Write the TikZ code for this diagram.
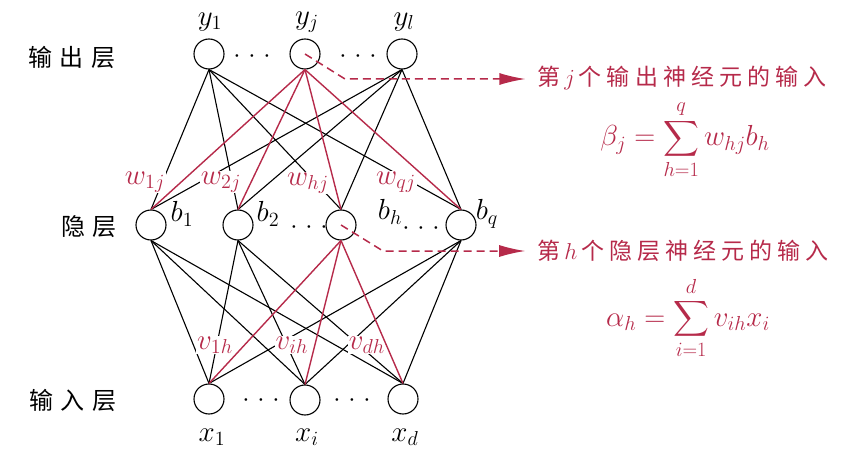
\RequirePackage{fix-cm}
\documentclass[tikz,border=0pt]{standalone}
\usepackage{amsmath}
\usepackage{graphicx}
\usepackage{fontspec}
\usetikzlibrary{arrows.meta}
\newfontfamily\cjkwide[LetterSpace=30]{Noto Sans CJK SC}
\newfontfamily\cjknote[LetterSpace=22]{Noto Sans CJK SC}
\definecolor{wred}{RGB}{182,42,74}
\newcommand{\mlab}[1]{\scalebox{1.4}{$#1$}}
\tikzset{
  neuron/.style={draw, circle, line width=1.1pt, minimum size=30pt, inner sep=0pt},
  conn/.style={line width=1.1pt},
  redconn/.style={line width=1.4pt, draw=wred},
  mlabel/.style={inner sep=0pt, font=\fontsize{20.74}{24}\selectfont},
  wlabel/.style={fill=white, text=wred, inner sep=1pt, font=\fontsize{20.74}{24}\selectfont},
  dotrow/.style={inner sep=0pt, font=\fontsize{26}{30}\selectfont},
  layer/.style={inner sep=0pt, font=\fontsize{24}{28}\cjkwide},
  note/.style={text=wred, inner xsep=12pt, inner ysep=0pt, font=\fontsize{23}{27}\cjknote},
  formula/.style={text=wred, inner sep=0pt, font=\fontsize{29}{33}\selectfont},
  dasharrow/.style={draw=wred, line width=1.5pt, dash pattern=on 8pt off 5pt,
    -{Latex[length=26pt, width=12pt]}}
}
\begin{document}
\begin{tikzpicture}[x=1pt,y=-1pt]
\useasboundingbox (0,0) rectangle (846,468);

\node[neuron] (y1) at (209,54) {};
\node[neuron] (yj) at (305,54) {};
\node[neuron] (yl) at (402,54) {};
\node[neuron] (b1) at (151,225) {};
\node[neuron] (b2) at (238,225) {};
\node[neuron] (bh) at (341,225) {};
\node[neuron] (bq) at (461,225) {};
\node[neuron] (x1) at (209,399) {};
\node[neuron] (xi) at (305,400) {};
\node[neuron] (xd) at (403,399) {};

\node[mlabel] (ly1) at (210,22) {\mlab{y_1}};
\node[mlabel] (lyj) at (307,22) {\mlab{y_j}};
\node[mlabel] (lyl) at (404,22) {\mlab{y_l}};
\node[mlabel] (lb1) at (182,214) {\mlab{b_1}};
\node[mlabel] (lb2) at (268,214) {\mlab{b_2}};
\node[mlabel] (lbh) at (390,212) {\mlab{b_h}};
\node[mlabel] (lbq) at (487,214) {\mlab{b_q}};
\node[mlabel] (lx1) at (212,437) {\mlab{x_1}};
\node[mlabel] (lxi) at (307,437) {\mlab{x_i}};
\node[mlabel] (lxd) at (405,437) {\mlab{x_d}};

\node[dotrow] (d1) at (252,57) {\(\cdot\) \(\cdot\) \(\cdot\)};
\node[dotrow] (d2) at (358,57) {\(\cdot\) \(\cdot\) \(\cdot\)};
\node[dotrow] (d3) at (309,228) {\(\cdot\) \(\cdot\) \(\cdot\)};
\node[dotrow] (d4) at (421,229) {\(\cdot\) \(\cdot\) \(\cdot\)};
\node[dotrow] (d5) at (261,401) {\(\cdot\) \(\cdot\) \(\cdot\)};
\node[dotrow] (d6) at (352,401) {\(\cdot\) \(\cdot\) \(\cdot\)};

\node[layer] (lout) at (72,57) {输出层};
\node[layer] (lhid) at (89,227) {隐层};
\node[layer] (lin) at (73,400) {输入层};

\foreach \o in {y1,yl}
  \foreach \h in {b1,b2,bh,bq}
    \draw[conn] (\o.south) -- (\h.north);
\foreach \h in {b1,b2,bq}
  \foreach \i in {x1,xi,xd}
    \draw[conn] (\h.south) -- (\i.north);

\node[wlabel] (w1j) at (145,182) {\mlab{w_{1j}}};
\node[wlabel] (w2j) at (221,182) {\mlab{w_{2j}}};
\node[wlabel] (whj) at (308,183) {\mlab{w_{hj}}};
\node[wlabel] (wqj) at (396,182) {\mlab{w_{qj}}};
\node[wlabel] (v1h) at (215,345) {\mlab{v_{1h}}};
\node[wlabel] (vih) at (292,345) {\mlab{v_{ih}}};
\node[wlabel] (vdh) at (367,345) {\mlab{v_{dh}}};

\foreach \h in {b1,b2,bh,bq}
  \draw[redconn] (yj.south) -- (\h.north);
\foreach \i in {x1,xi,xd}
  \draw[redconn] (bh.south) -- (\i.north);

\node[note] (tj) at (682,78) {第\,$j$\,个输出神经元的输入};
\node[note] (th) at (683,251) {第\,$h$\,个隐层神经元的输入};
\node[formula] (fb) at (685,140) {$\displaystyle\beta_j=\sum_{h=1}^{q} w_{hj}b_h$};
\node[formula] (fa) at (688,318) {$\displaystyle\alpha_h=\sum_{i=1}^{d} v_{ih}x_i$};

\coordinate (kj) at (345,79);
\coordinate (kh) at (383,251);
\draw[dasharrow] (yj.center) -- (kj) -- (kj -| tj.west);
\draw[dasharrow] (bh.center) -- (kh) -- (kh -| th.west);
\end{tikzpicture}
\end{document}
